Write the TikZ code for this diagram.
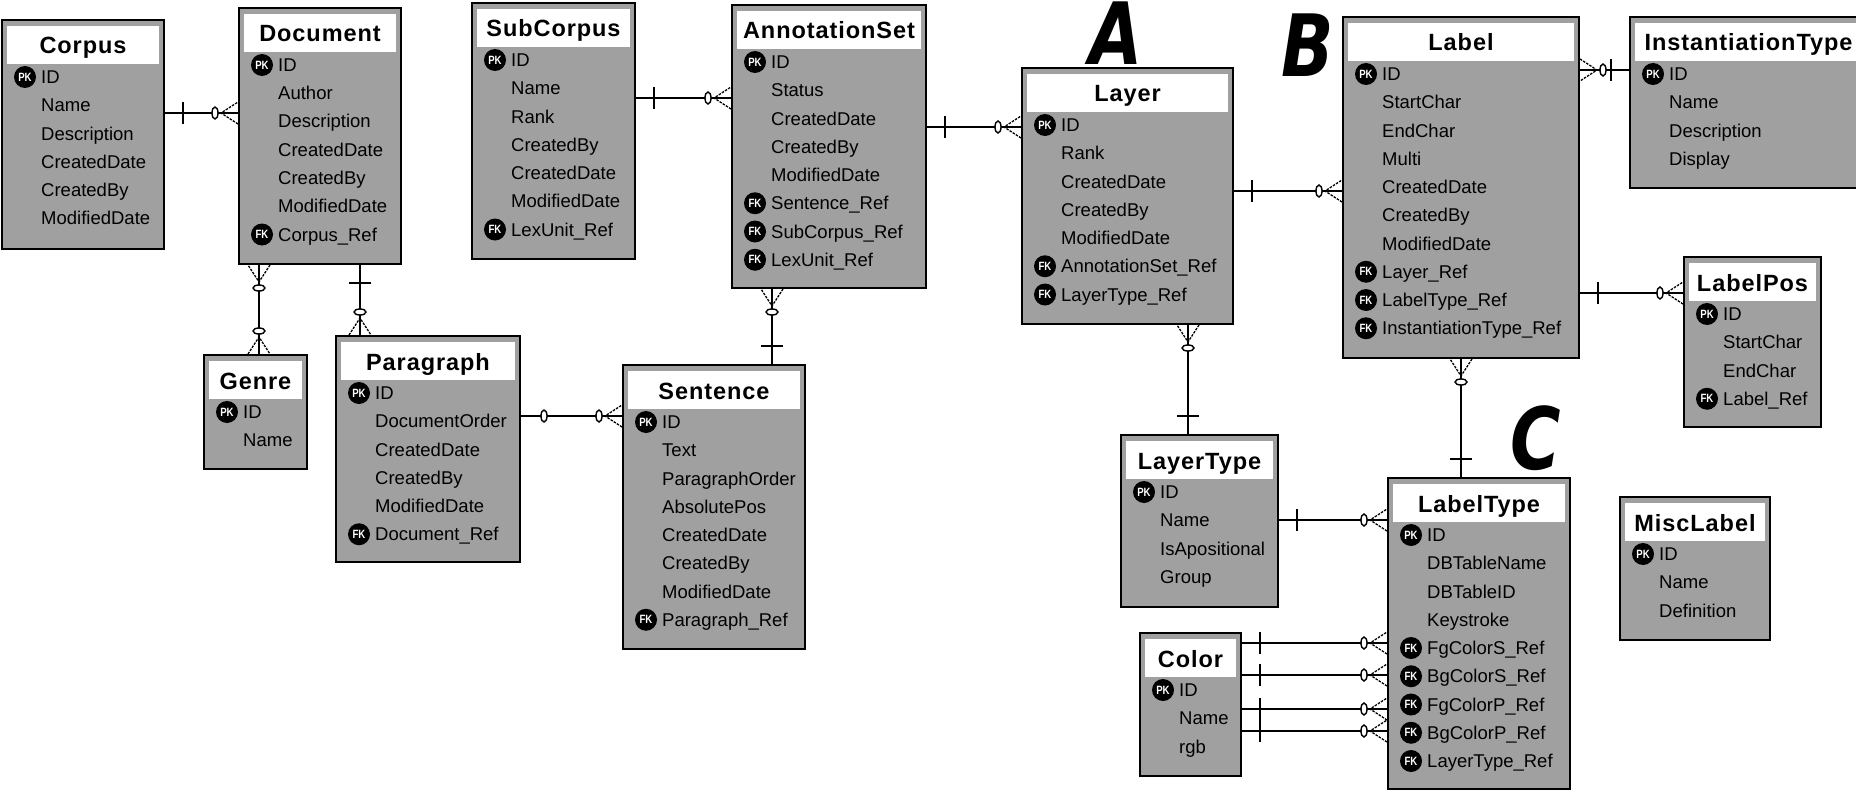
\documentclass[tikz,border=0pt]{standalone}
\usepackage{fontspec}
\setmainfont{Liberation Sans}
\newfontfamily\titlefont[LetterSpace=4]{Liberation Sans}
\newfontfamily\letterfont{DejaVu Sans}
\usetikzlibrary{calc}

\definecolor{boxgray}{RGB}{160,160,160}
\tikzset{
  entbox/.style={draw=black, line width=2pt, fill=boxgray, rectangle, inner sep=0pt, anchor=north west},
  titletext/.style={font=\titlefont\bfseries\fontsize{23.5}{24}\selectfont, anchor=base, inner sep=0pt},
  rowtext/.style={font=\fontsize{18.5}{19}\selectfont, anchor=base west, inner sep=0pt},
  keyicon/.style={circle, fill=black, inner sep=0pt, minimum size=22pt, text=white, font=\bfseries\fontsize{12}{12}\selectfont},
  relline/.style={line width=2pt, black},
  tickmark/.style={line width=2pt, black},
  crowmark/.style={line width=1.3pt, black, dash pattern=on 2.5pt off 1.2pt},
  zeromark/.style={line width=1.4pt, black, fill=white},
  bigletter/.style={font=\letterfont\bfseries\itshape\fontsize{86}{86}\selectfont, anchor=base, inner sep=0pt},
}

% entity: name, x1, y1, x2, y2, title, rows (kind/text)
\newcommand{\entity}[7]{%
  \pgfmathsetmacro{\entw}{#4-#2}%
  \pgfmathsetmacro{\enth}{#5-#3}%
  \node[entbox, minimum width=\entw pt, minimum height=\enth pt] (#1) at (#2,#3) {};
  \fill[white] ($(#1.north west)+(6,7)$) rectangle ($(#1.north east)+(-6,45)$);
  \node[titletext] at ($(#1.north)+(0,35)$) {#6};
  \foreach \kind/\txt [count=\i from 0] in {#7} {
    \node[rowtext] at ($(#1.north west)+(40,{64.5+28.25*\i})$) {\txt};
    \if\kind P\node[keyicon] at ($(#1.north west)+(24,{58+28.25*\i})$) {\scalebox{0.8}[1]{PK}};\fi
    \if\kind F\node[keyicon] at ($(#1.north west)+(24,{58+28.25*\i})$) {\scalebox{0.8}[1]{FK}};\fi
  }%
}

% relationship end decorations: #1 edge point, #2 other end, #3 h or v
\newcommand{\decoone}[3]{%
  \path ($(#1)!18pt!(#2)$) coordinate (dk);
  \draw[tickmark] ($(dk)!11pt!90:(#2)$) -- ($(dk)!11pt!-90:(#2)$);%
}
\newcommand{\decozero}[3]{%
  \path ($(#1)!23pt!(#2)$) coordinate (dz);
  \if#3h\draw[zeromark] (dz) ellipse [x radius=3pt, y radius=6pt];%
  \else\draw[zeromark] (dz) ellipse [x radius=6pt, y radius=3pt];\fi
}
\newcommand{\decomany}[3]{%
  \path ($(#1)!17pt!(#2)$) coordinate (dv);
  \draw[crowmark] ($(#1)!11pt!90:(#2)$) -- (dv) -- ($(#1)!11pt!-90:(#2)$);%
  \decozero{#1}{#2}{#3}%
}
\newcommand{\rel}[5]{%
  \draw[relline] (#1) -- (#2);
  \csname deco#3\endcsname{#1}{#2}{#5}%
  \csname deco#4\endcsname{#2}{#1}{#5}%
}

\begin{document}
\begin{tikzpicture}[x=1pt,y=-1pt]
\useasboundingbox (0,0) rectangle (1856,792);
\fill[white] (0,0) rectangle (1856,792);

\entity{eCorpus}{1}{19}{163}{248}{Corpus}{P/ID,N/Name,N/Description,N/CreatedDate,N/CreatedBy,N/ModifiedDate}
\entity{eDocument}{238}{7}{400}{263}{Document}{P/ID,N/Author,N/Description,N/CreatedDate,N/CreatedBy,N/ModifiedDate,F/Corpus\_Ref}
\entity{eGenre}{203}{354}{306}{468}{Genre}{P/ID,N/Name}
\entity{eParagraph}{335}{335}{519}{561}{Paragraph}{P/ID,N/DocumentOrder,N/CreatedDate,N/CreatedBy,N/ModifiedDate,F/Document\_Ref}
\entity{eSubCorpus}{471}{2}{634}{258}{SubCorpus}{P/ID,N/Name,N/Rank,N/CreatedBy,N/CreatedDate,N/ModifiedDate,F/LexUnit\_Ref}
\entity{eAnnSet}{731}{4}{925}{287}{AnnotationSet}{P/ID,N/Status,N/CreatedDate,N/CreatedBy,N/ModifiedDate,F/Sentence\_Ref,F/SubCorpus\_Ref,F/LexUnit\_Ref}
\entity{eSentence}{622}{364}{804}{648}{Sentence}{P/ID,N/Text,N/ParagraphOrder,N/AbsolutePos,N/CreatedDate,N/CreatedBy,N/ModifiedDate,F/Paragraph\_Ref}
\entity{eLayer}{1021}{67}{1232}{323}{Layer}{P/ID,N/Rank,N/CreatedDate,N/CreatedBy,N/ModifiedDate,F/AnnotationSet\_Ref,F/LayerType\_Ref}
\entity{eLabel}{1342}{16}{1578}{357}{Label}{P/ID,N/StartChar,N/EndChar,N/Multi,N/CreatedDate,N/CreatedBy,N/ModifiedDate,F/Layer\_Ref,F/LabelType\_Ref,F/InstantiationType\_Ref}
\entity{eInstType}{1629}{16}{1866}{187}{InstantiationType}{P/ID,N/Name,N/Description,N/Display}
\entity{eLabelPos}{1683}{256}{1820}{426}{LabelPos}{P/ID,N/StartChar,N/EndChar,F/Label\_Ref}
\entity{eLayerType}{1120}{434}{1277}{606}{LayerType}{P/ID,N/Name,N/IsApositional,N/Group}
\entity{eLabelType}{1387}{477}{1569}{788}{LabelType}{P/ID,N/DBTableName,N/DBTableID,N/Keystroke,F/FgColorS\_Ref,F/BgColorS\_Ref,F/FgColorP\_Ref,F/BgColorP\_Ref,F/LayerType\_Ref}
\entity{eColor}{1139}{632}{1240}{775}{Color}{P/ID,N/Name,N/rgb}
\entity{eMiscLabel}{1619}{496}{1769}{639}{MiscLabel}{P/ID,N/Name,N/Definition}

% big letters
\node[bigletter] (letA) at (1116,65) {\scalebox{0.8}[1]{A}};
\node[bigletter] (letB) at (1308,77) {\scalebox{0.8}[1]{B}};
\node[bigletter] (letC) at (1536,469) {\scalebox{0.8}[1]{C}};

% connector end points
\coordinate (r1a) at (eCorpus.east |- 0,113);   \coordinate (r1b) at (eDocument.west |- 0,113);
\coordinate (r2a) at (eDocument.south -| 259,0); \coordinate (r2b) at (eGenre.north -| 259,0);
\coordinate (r3a) at (eDocument.south -| 360,0); \coordinate (r3b) at (eParagraph.north -| 360,0);
\coordinate (r4a) at (eParagraph.east |- 0,416); \coordinate (r4b) at (eSentence.west |- 0,416);
\coordinate (r5a) at (eSubCorpus.east |- 0,98);  \coordinate (r5b) at (eAnnSet.west |- 0,98);
\coordinate (r6a) at (eAnnSet.south -| 772,0);   \coordinate (r6b) at (eSentence.north -| 772,0);
\coordinate (r7a) at (eAnnSet.east |- 0,127);    \coordinate (r7b) at (eLayer.west |- 0,127);
\coordinate (r8a) at (eLayer.east |- 0,191);     \coordinate (r8b) at (eLabel.west |- 0,191);
\coordinate (r9a) at (eLayer.south -| 1188,0);   \coordinate (r9b) at (eLayerType.north -| 1188,0);
\coordinate (r10a) at (eLabel.east |- 0,70);     \coordinate (r10b) at (eInstType.west |- 0,70);
\coordinate (r11a) at (eLabel.east |- 0,293);    \coordinate (r11b) at (eLabelPos.west |- 0,293);
\coordinate (r12a) at (eLabel.south -| 1461,0);  \coordinate (r12b) at (eLabelType.north -| 1461,0);
\coordinate (r13a) at (eLayerType.east |- 0,520); \coordinate (r13b) at (eLabelType.west |- 0,520);
\coordinate (r14a) at (eColor.east |- 0,643);    \coordinate (r14b) at (eLabelType.west |- 0,643);
\coordinate (r15a) at (eColor.east |- 0,675);    \coordinate (r15b) at (eLabelType.west |- 0,675);
\coordinate (r16a) at (eColor.east |- 0,709);    \coordinate (r16b) at (eLabelType.west |- 0,709);
\coordinate (r17a) at (eColor.east |- 0,731);    \coordinate (r17b) at (eLabelType.west |- 0,731);

\rel{r1a}{r1b}{one}{many}{h}
\rel{r2a}{r2b}{many}{many}{v}
\rel{r3a}{r3b}{one}{many}{v}
\rel{r4a}{r4b}{zero}{many}{h}
\rel{r5a}{r5b}{one}{many}{h}
\rel{r6a}{r6b}{many}{one}{v}
\rel{r7a}{r7b}{one}{many}{h}
\rel{r8a}{r8b}{one}{many}{h}
\rel{r9a}{r9b}{many}{one}{v}
\rel{r10a}{r10b}{many}{one}{h}
\rel{r11a}{r11b}{one}{many}{h}
\rel{r12a}{r12b}{many}{one}{v}
\rel{r13a}{r13b}{one}{many}{h}
\rel{r14a}{r14b}{one}{many}{h}
\rel{r15a}{r15b}{one}{many}{h}
\rel{r16a}{r16b}{one}{many}{h}
\rel{r17a}{r17b}{one}{many}{h}
\end{tikzpicture}
\end{document}
